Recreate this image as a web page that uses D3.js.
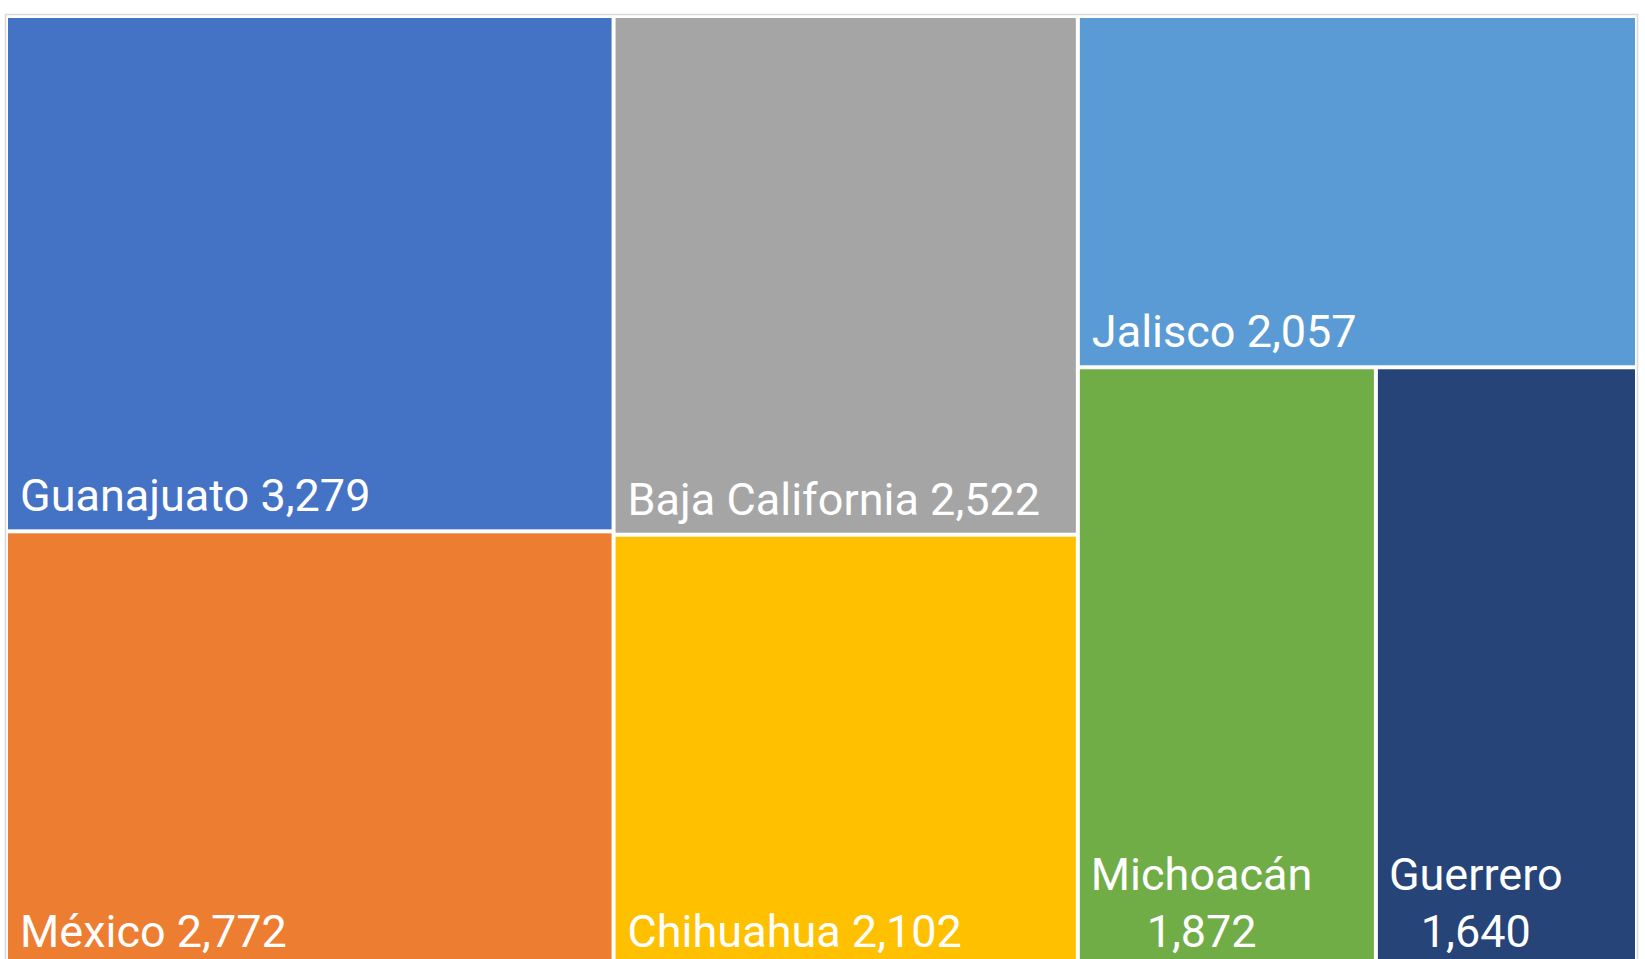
<!DOCTYPE html>
<html>
<head>
<meta charset="utf-8">
<script src="https://cdn.jsdelivr.net/npm/d3@7"></script>
<style>
  html, body { margin: 0; padding: 0; background: #fff; overflow: hidden; }
</style>
</head>
<body>
<div id="chart"></div>
<script>
// data
const states = ["Guanajuato", "México", "Baja California", "Chihuahua", "Jalisco", "Michoacán", "Guerrero"];
const values = [3279, 2772, 2522, 2102, 2057, 1872, 1640];
const colors = ["#4472C4", "#ED7D31", "#A5A5A5", "#FFC000", "#5B9BD5", "#70AD47", "#264478"];
// which column / row of the Excel layout each state sits in
const column = [0, 0, 1, 1, 2, 2, 2];
const row = [0, 1, 0, 1, 0, 1, 1];

const width = 1645;
const height = 959;
const format = d3.format(",.0f");

const svg = d3.select("#chart").append("svg")
  .attr("width", width)
  .attr("height", height)
  .attr("viewBox", [0, 0, width, height])
  .style("display", "block");

// plot area frame
svg.append("rect")
  .attr("x", 5.5)
  .attr("y", 14.5)
  .attr("width", 1632)
  .attr("height", 980)
  .attr("fill", "none")
  .attr("stroke", "#d9d9d9")
  .attr("stroke-width", 1.5);

// column -> row -> state
const leaves = states.map((name, i) => ({ name, value: values[i], color: colors[i], col: column[i], row: row[i] }));
const tree = {
  name: "root",
  children: d3.groups(leaves, d => d.col).map(([c, items]) => ({
    name: "col" + c,
    children: d3.groups(items, d => d.row).map(([r, its]) => ({ name: "row" + r, children: its }))
  }))
};

const root = d3.hierarchy(tree).sum(d => d.children ? 0 : d.value);

// the chart runs past the bottom of the window, as in the screenshot
d3.treemap()
  .tile(d3.treemapSliceDice)
  .size([1627, 947])
  .paddingInner(4)
  .round(false)(root);

const g = svg.append("g").attr("transform", "translate(8,18)");

const cell = g.selectAll("g")
  .data(root.leaves())
  .join("g");

cell.append("rect")
  .attr("x", d => d.x0)
  .attr("y", d => d.y0)
  .attr("width", d => d.x1 - d.x0)
  .attr("height", d => d.y1 - d.y0)
  .attr("fill", d => d.data.color);

const fontSize = 45;
const lineGap = 57;
const label = cell.append("text")
  .attr("fill", "#fff")
  .style("font-family", "Roboto, 'Liberation Sans', sans-serif")
  .style("font-size", fontSize + "px");

label.each(function(d) {
  const t = d3.select(this);
  const full = `${d.data.name} ${format(d.data.value)}`;
  t.attr("x", d.x0 + 12).attr("y", d.y1 - 18).text(full);
  if (this.getComputedTextLength() > d.x1 - d.x0 - 24) {
    // wrap: name on first line, value centred under it
    t.text(null);
    const tmp = t.append("tspan").text(d.data.name);
    const nameW = tmp.node().getComputedTextLength();
    tmp.remove();
    const cx = d.x0 + 11 + nameW / 2;
    t.attr("text-anchor", "middle");
    t.append("tspan").attr("x", cx).attr("y", d.y1 - 18 - lineGap).text(d.data.name);
    t.append("tspan").attr("x", cx).attr("y", d.y1 - 18).text(format(d.data.value));
  }
});
</script>
</body>
</html>
